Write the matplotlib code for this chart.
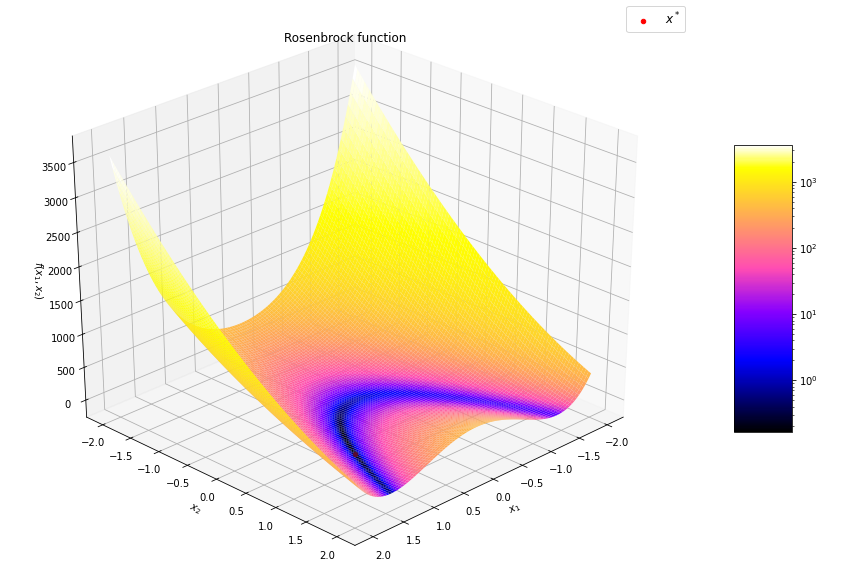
import numpy as np
import matplotlib
matplotlib.use("Agg")
import matplotlib.pyplot as plt
from matplotlib.colors import LogNorm
from mpl_toolkits.mplot3d import Axes3D


# The surface is the function named in the title, not values read off the picture
a = 1
b = 100
x_min, x_max = -2, 2
n_points = 100
x_star = [1]
y_star = [1]
z_star = [0]
ticks_xy = [-2.0, -1.5, -1.0, -0.5, 0.0, 0.5, 1.0, 1.5, 2.0]
ticks_z = [0, 500, 1000, 1500, 2000, 2500, 3000, 3500]
cbar_min = 0.165
cbar_max = 3609


def rosenbrock(x1, x2):
    return (a - x1) ** 2 + b * (x2 - x1 ** 2) ** 2


x1 = np.linspace(x_min, x_max, n_points)
x2 = np.linspace(x_min, x_max, n_points)
X1, X2 = np.meshgrid(x1, x2)
Z = rosenbrock(X1, X2)

fig = plt.figure(figsize=(12, 8), dpi=72)
ax = fig.add_axes([0.0, 0.0, 0.8, 1.0], projection="3d", computed_zorder=False)
# keep the axes rectangle as given, the cube gets stretched to fill it
ax.apply_aspect = lambda position=None: None
ax.set_box_aspect((1, 1, 1), zoom=0.947)
ax.view_init(elev=30, azim=45)

surf = ax.plot_surface(X1, X2, Z, cmap="gnuplot2", norm=LogNorm(vmin=cbar_min, vmax=cbar_max),
                       rstride=1, cstride=1, linewidth=0, antialiased=True, zorder=1)
star = ax.scatter(x_star, y_star, z_star, color="red", label="$x^*$", zorder=3, depthshade=False)

ax.set_title("Rosenbrock function", y=0.997)
ax.set_xlabel("$x_1$")
ax.set_ylabel("$x_2$")
ax.zaxis.set_rotate_label(False)
ax.set_zlabel("$f(x_1, x_2)$", rotation=270)
ax.set_xticks(ticks_xy)
ax.set_yticks(ticks_xy)
ax.set_zticks(ticks_z)

ax.legend(loc="upper right", bbox_to_anchor=(685 / 864, 1 - 6 / 576), bbox_transform=fig.transFigure,
          fontsize=12, borderaxespad=0)
# the point shows dark through the surface in the original, only the legend marker is full red
star.set_color("#5a0a30")
star.set_sizes([16])

cax = fig.add_axes([734 / 864, 1 - 432 / 576, 58 / 864, 287 / 576])
fig.colorbar(surf, cax=cax)

fig.savefig("out.png", dpi=72)
